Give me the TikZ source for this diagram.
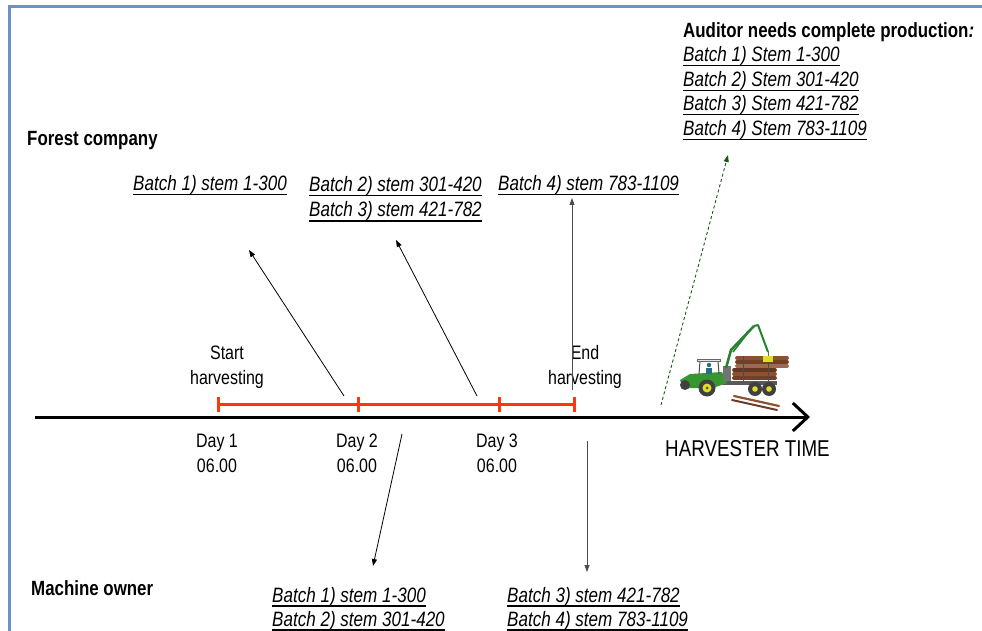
\documentclass[tikz,border=0pt]{standalone}
\usepackage{fontspec}
\usetikzlibrary{arrows.meta}
\newfontfamily\nar[FakeStretch=0.82]{Liberation Sans}
% underlined text with a rule just below the descenders
\newcommand{\ubar}[1]{\setbox0\hbox{#1}\leavevmode\rlap{\vrule height -3pt depth 4.5pt width \wd0}\box0}
\definecolor{frameblue}{RGB}{105,145,205}
\definecolor{spanred}{RGB}{255,55,10}
\definecolor{dashgreen}{RGB}{25,85,25}
\definecolor{logbrown}{RGB}{140,80,50}
\definecolor{bodygreen}{RGB}{55,150,45}
\definecolor{cranegreen}{RGB}{40,130,50}
\definecolor{wheelyellow}{RGB}{225,220,40}
\definecolor{driverblue}{RGB}{40,110,130}
\begin{document}
\begin{tikzpicture}[x=1pt,y=-1pt,
  plain/.style={font=\nar\fontsize{19.5}{25}\selectfont, inner sep=0pt, anchor=base},
  bigplain/.style={font=\nar\fontsize{22.9}{27}\selectfont, inner sep=0pt, anchor=base west},
  heading/.style={font=\nar\bfseries\fontsize{20.6}{25}\selectfont, inner sep=0pt, anchor=base west},
  batch/.style={font=\nar\itshape\fontsize{20.8}{25}\selectfont, inner sep=0pt, anchor=base west},
  flow/.style={line width=0.8pt, -{Triangle[length=7pt,width=5pt]}},
  greyflow/.style={flow, black!70},
  axis/.style={line width=3pt, -{Straight Barb[length=15pt,width=28pt]}},
  span/.style={spanred, line width=3pt},
  audit/.style={dashgreen, line width=0.9pt, dash pattern=on 3pt off 2.5pt, -{Triangle[length=7pt,width=5pt]}},
]
\useasboundingbox (0,0) rectangle (982,631);

% frame
\draw[frameblue, line width=2.5pt] (9.5,631) -- (9.5,6.5) -- (982,6.5);

% time axis
\coordinate (t0) at (35,417);
\coordinate (t1) at (810,417);
\draw[axis] (t0) -- (t1);

% harvesting span with day marks
\coordinate (s1) at (218,404);
\coordinate (s2) at (358,404);
\coordinate (s3) at (499,404);
\coordinate (s4) at (574,404);
\draw[span] (s1) -- (s4);
\foreach \p in {s1,s2,s3,s4}
  \draw[span] ([yshift=-7.5pt]\p) -- ([yshift=7.5pt]\p);

% axis labels
\node[plain] (start1) at (227,359) {Start};
\node[plain] (start2) at (227,384) {harvesting};
\node[plain] (end1) at (585,359) {End};
\node[plain] (end2) at (585,384) {harvesting};
\node[plain] (day1) at (217,447) {Day 1};
\node[plain] (hr1) at (217,472) {06.00};
\node[plain] (day2) at (357,447) {Day 2};
\node[plain] (hr2) at (357,472) {06.00};
\node[plain] (day3) at (497,447) {Day 3};
\node[plain] (hr3) at (497,472) {06.00};
\node[bigplain] (htime) at (665,456) {HARVESTER TIME};

% forest company
\node[heading] (forest) at (27,146) {Forest company};
\node[batch] (fc1) at (133,191) {\ubar{Batch 1) stem 1-300}};
\node[batch] (fc2) at (309,192) {\ubar{Batch 2) stem 301-420}};
\node[batch] (fc3) at (309,217) {\ubar{Batch 3) stem 421-782}};
\node[batch] (fc4) at (498,191) {\ubar{Batch 4) stem 783-1109}};

% machine owner
\node[heading] (owner) at (31,595) {Machine owner};
\node[batch] (mo1) at (272,602) {\ubar{Batch 1) stem 1-300}};
\node[batch] (mo2) at (272,626) {\ubar{Batch 2) stem 301-420}};
\node[batch] (mo3) at (507,602) {\ubar{Batch 3) stem 421-782}};
\node[batch] (mo4) at (507,626) {\ubar{Batch 4) stem 783-1109}};

% auditor
\node[heading] (auditor) at (683,38) {Auditor needs complete production\textit{:}};
\node[batch] (au1) at (683,62) {\ubar{Batch 1) Stem 1-300}};
\node[batch] (au2) at (683,87) {\ubar{Batch 2) Stem 301-420}};
\node[batch] (au3) at (683,111) {\ubar{Batch 3) Stem 421-782}};
\node[batch] (au4) at (683,136) {\ubar{Batch 4) Stem 783-1109}};

% reporting arrows
\coordinate (a1s) at (344,396); \coordinate (a1e) at (249,250);
\coordinate (a2s) at (477,396); \coordinate (a2e) at (396,240);
\coordinate (a3s) at (572,390); \coordinate (a3e) at (572,198);
\coordinate (b1s) at (402,434); \coordinate (b1e) at (373,566);
\coordinate (b2s) at (587,441); \coordinate (b2e) at (587,572);
\coordinate (g1s) at (661,405); \coordinate (g1e) at (728,155);
\draw[flow] (a1s) -- (a1e);
\draw[flow] (a2s) -- (a2e);
\draw[greyflow] (a3s) -- (a3e);
\draw[flow] (b1s) -- (b1e);
\draw[greyflow] (b2s) -- (b2e);
\draw[audit] (g1s) -- (g1e);

% forwarder
\begin{scope}
  % loose logs on the ground
  \draw[line width=2.2pt, logbrown, line cap=round] (734,396) -- (779,406);
  \draw[line width=2pt, logbrown!75!black, line cap=round] (732,400) -- (777,410);
  % upper tier of the load
  \foreach \yy/\c in {358/logbrown, 362/logbrown!80!black, 366/logbrown!85!white}
    \draw[line width=3.8pt, \c, line cap=round] (737,\yy) -- (787,\yy);
  % lower tier of the load
  \foreach \yy/\c in {370/logbrown!70!black, 374/logbrown, 378/logbrown!80!black}
    \draw[line width=3.8pt, \c, line cap=round] (734,\yy) -- (775,\yy);
  % stakes
  \draw[black!70, line width=1pt] (743,356) -- (743,384);
  \draw[black!70, line width=1pt] (768,356) -- (768,384);
  % frame
  \fill[black!65] (713,381) rectangle (777,385);
  % rear wheels
  \foreach \xx in {755,769} {
    \fill[black!75] (\xx,389) circle (7);
    \fill[wheelyellow] (\xx,389) circle (2.8);
  }
  % front body
  \fill[bodygreen] (680,380) -- (690,374) -- (722,372) -- (727,383) -- (713,388) -- (683,388) -- cycle;
  % cab
  \draw[black!70, line width=1pt] (699,374) -- (700,361) -- (718,361) -- (719,374);
  \fill[black!10] (697,359) rectangle (720,361.5);
  \draw[black!60, line width=0.6pt] (697,359) rectangle (720,361.5);
  % driver
  \fill[driverblue] (709,365) circle (2.2);
  \fill[driverblue] (706,368) rectangle (712,374);
  % front wheels
  \fill[black!75] (685,385) circle (5);
  \fill[black!75] (707,388) circle (8.5);
  \fill[wheelyellow] (707,388) circle (4.5);
  \fill[black!70] (707,388) circle (1.5);
  % crane
  \fill[black!55] (723,366) rectangle (731,381);
  \draw[cranegreen, line width=2.6pt, line join=round] (726,368) -- (731,350) -- (754,326);
  \draw[cranegreen, line width=1.6pt] (733,352) -- (750,330);
  \draw[cranegreen, line width=2pt, line join=round] (754,326) -- (758,325) -- (768,352);
  \draw[black!60, line width=0.8pt] (768,352) -- (768,356);
  \fill[wheelyellow] (763,356) rectangle (773,362);
\end{scope}
\end{tikzpicture}
\end{document}
